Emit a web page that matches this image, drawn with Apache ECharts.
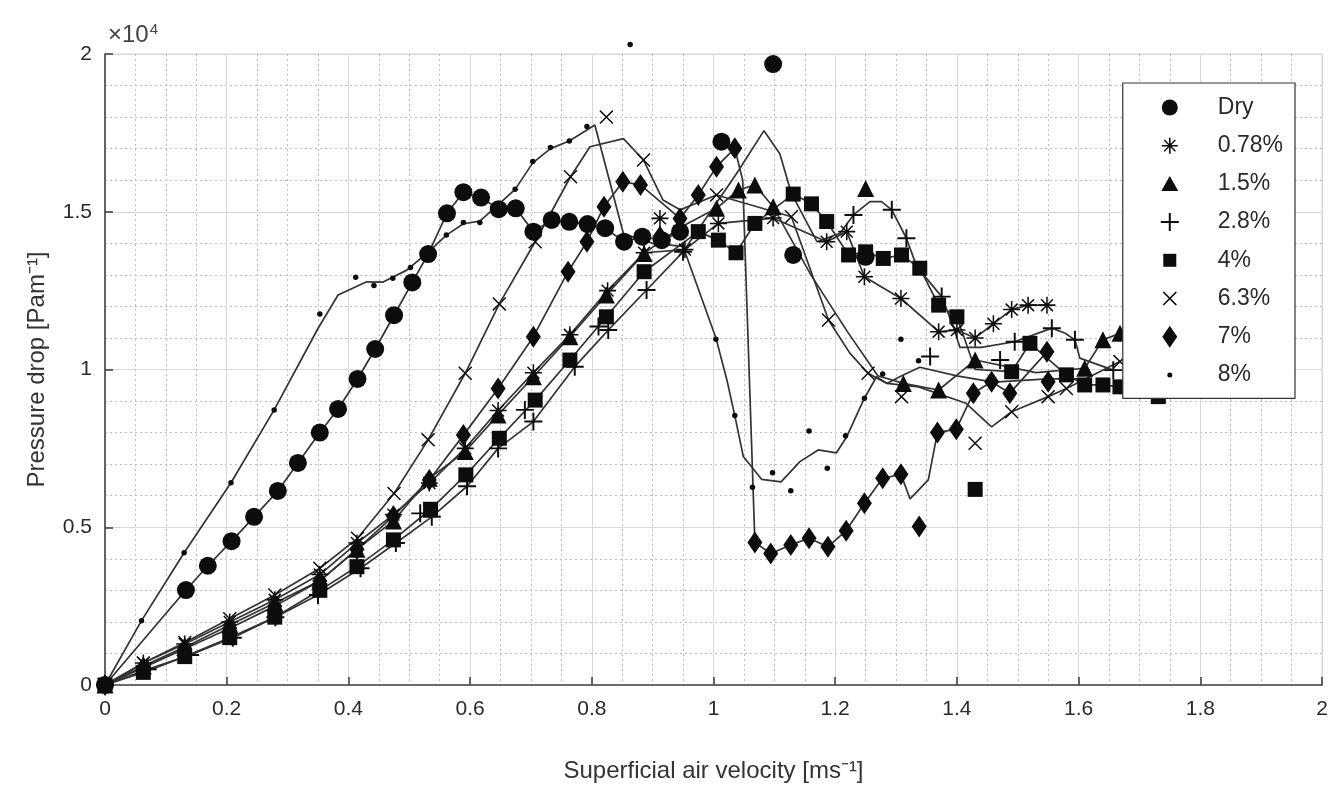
<!DOCTYPE html>
<html><head><meta charset="utf-8">
<script src="https://cdn.jsdelivr.net/npm/echarts@6/dist/echarts.min.js"></script>
<style>html,body{margin:0;padding:0;background:#fff}#c{width:1344px;height:794px}</style>
</head><body><div id="c"></div>
<script>
// ---------- DATA (x: superficial air velocity [m/s], y: pressure drop [x1e4 Pa/m]) ----------
const seriesNames = ['Dry','0.78%','1.5%','2.8%','4%','6.3%','7%','8%'];
const xTicks = [0,0.2,0.4,0.6,0.8,1,1.2,1.4,1.6,1.8,2];
const yTicks = [0,0.5,1,1.5,2];

// on = markers on the line, off = markers off the line, via = line vertices without a marker
const dryOn = [[0,0],[0.133,0.301],[0.169,0.378],[0.208,0.456],[0.245,0.533],[0.284,0.615],[0.317,0.704],[0.353,0.800],[0.383,0.875],[0.415,0.970],[0.444,1.065],[0.475,1.172],[0.505,1.276],[0.531,1.366],[0.562,1.495],[0.589,1.562],[0.618,1.545],[0.647,1.508],[0.675,1.511],[0.704,1.437],[0.734,1.474],[0.763,1.468],[0.793,1.461],[0.822,1.448],[0.853,1.405],[0.883,1.421],[0.915,1.41],[0.945,1.437]];
const dryOff = [[1.013,1.722],[1.098,1.968],[1.131,1.363],[1.25,1.357]];
const dryVia = [];

const p078On = [[0,0],[0.063,0.07],[0.131,0.13],[0.205,0.20],[0.279,0.27],[0.353,0.35],[0.414,0.45],[0.474,0.54],[0.533,0.64],[0.592,0.75],[0.646,0.87],[0.704,0.99],[0.764,1.11],[0.826,1.25],[0.886,1.37],[0.953,1.38],[1.008,1.463],[1.098,1.48],[1.186,1.405],[1.219,1.437],[1.248,1.294],[1.308,1.225],[1.37,1.12],[1.40,1.125],[1.43,1.10],[1.46,1.145],[1.49,1.19],[1.517,1.204],[1.548,1.204]];
const p078Off = [[0.912,1.479]];
const p078Via = [];

const p15On = [[0,0],[0.063,0.06],[0.131,0.12],[0.205,0.19],[0.279,0.26],[0.353,0.33],[0.414,0.43],[0.474,0.52],[0.533,0.655],[0.592,0.74],[0.646,0.856],[0.704,0.977],[0.764,1.104],[0.824,1.236],[0.886,1.368],[0.945,1.45],[1.005,1.511],[1.041,1.569],[1.068,1.585],[1.098,1.516],[1.312,0.956],[1.37,0.935],[1.43,1.03],[1.61,1.004],[1.64,1.094],[1.668,1.115]];
const p15Off = [[1.25,1.574]];
const p15Via = [[1.16,1.30],[1.22,1.12],[1.27,0.98],[1.53,0.99]];

const p28On = [[0,0],[0.07,0.05],[0.14,0.095],[0.21,0.15],[0.28,0.215],[0.35,0.285],[0.42,0.37],[0.478,0.45],[0.537,0.533],[0.595,0.63],[0.646,0.75],[0.704,0.835],[0.772,1.009],[0.827,1.125],[0.89,1.252],[0.95,1.373],[1.23,1.49],[1.293,1.506],[1.317,1.416],[1.375,1.231],[1.495,1.088],[1.556,1.131],[1.594,1.094],[1.657,0.998]];
const p28Off = [[0.518,0.544],[0.69,0.872],[0.811,1.136],[1.356,1.041],[1.471,1.03]];
const p28Via = [[1.038,1.621],[1.083,1.757],[1.109,1.684],[1.128,1.558],[1.17,1.405],[1.208,1.432],[1.257,1.532],[1.276,1.532],[1.334,1.326],[1.394,1.136],[1.405,1.07],[1.44,1.07],[1.578,1.115],[1.602,1.036]];

const p4On = [[0,0],[0.063,0.04],[0.131,0.09],[0.205,0.15],[0.279,0.215],[0.353,0.30],[0.414,0.375],[0.474,0.46],[0.535,0.557],[0.593,0.666],[0.648,0.782],[0.707,0.903],[0.764,1.03],[0.824,1.167],[0.886,1.31],[0.975,1.437],[1.008,1.41],[1.037,1.37],[1.068,1.463],[1.131,1.556],[1.161,1.525],[1.186,1.469],[1.222,1.363],[1.25,1.373],[1.279,1.352],[1.309,1.363],[1.339,1.321],[1.37,1.204],[1.40,1.167],[1.49,0.993],[1.52,1.083],[1.58,0.983],[1.61,0.951],[1.64,0.951],[1.668,0.945],[1.731,0.914]];
const p4Off = [[1.43,0.62]];
const p4Via = [[1.43,1.0]];

const p63On = [[0,0],[0.063,0.07],[0.131,0.135],[0.205,0.21],[0.279,0.285],[0.353,0.37],[0.415,0.465],[0.475,0.607],[0.531,0.777],[0.592,0.988],[0.648,1.208],[0.707,1.405],[0.765,1.611],[0.885,1.664],[1.005,1.553],[1.128,1.484],[1.189,1.157],[1.254,0.988],[1.49,0.866],[1.55,0.914],[1.58,0.94],[1.668,1.025]];
const p63Off = [[0.824,1.80],[1.309,0.914],[1.43,0.766]];
const p63Via = [[0.797,1.706],[0.852,1.732],[0.917,1.537],[0.945,1.506],[1.224,1.052],[1.285,0.956],[1.337,0.945],[1.415,0.893],[1.457,0.818]];

const p7On = [[0,0],[0.063,0.055],[0.131,0.115],[0.205,0.18],[0.279,0.25],[0.353,0.33],[0.414,0.43],[0.474,0.535],[0.533,0.65],[0.589,0.792],[0.646,0.94],[0.704,1.104],[0.761,1.31],[0.792,1.405],[0.82,1.516],[0.851,1.595],[0.88,1.585],[0.945,1.479],[0.975,1.553],[1.005,1.643],[1.035,1.701],[1.068,0.452],[1.094,0.417],[1.127,0.444],[1.157,0.465],[1.188,0.438],[1.218,0.489],[1.248,0.576],[1.278,0.655],[1.308,0.668],[1.368,0.80],[1.399,0.811],[1.427,0.925],[1.457,0.961],[1.487,0.925],[1.548,1.056]];
const p7Off = [[0.912,1.421],[1.338,0.502],[1.55,0.961]];
const p7Via = [[1.048,1.60],[1.323,0.59],[1.353,0.65]];

const p8On = [];
const p8Off = [[0,0],[0.060,0.204],[0.130,0.419],[0.207,0.641],[0.278,0.872],[0.353,1.176],[0.412,1.292],[0.442,1.266],[0.473,1.289],[0.502,1.323],[0.561,1.426],[0.589,1.466],[0.616,1.466],[0.674,1.571],[0.703,1.659],[0.732,1.704],[0.763,1.724],[0.792,1.77],[0.863,2.03],[1.004,1.096],[1.035,0.854],[1.064,0.627],[1.097,0.673],[1.127,0.616],[1.157,0.805],[1.187,0.687],[1.217,0.79],[1.248,0.909],[1.278,0.986],[1.308,1.096],[1.337,1.028]];
const p8Via = [[0,0],[0.060,0.204],[0.130,0.419],[0.207,0.641],[0.278,0.872],[0.35,1.13],[0.383,1.236],[0.43,1.278],[0.457,1.277],[0.496,1.315],[0.53,1.37],[0.561,1.426],[0.589,1.462],[0.616,1.47],[0.645,1.52],[0.674,1.571],[0.703,1.655],[0.732,1.70],[0.763,1.724],[0.805,1.775],[0.852,1.43],[0.90,1.40],[0.95,1.39],[1.004,1.10],[1.022,0.967],[1.035,0.854],[1.049,0.724],[1.079,0.652],[1.111,0.644],[1.142,0.708],[1.172,0.745],[1.202,0.736],[1.219,0.787],[1.248,0.909],[1.268,0.977],[1.285,0.956],[1.306,0.977],[1.339,1.007],[1.40,0.98],[1.46,0.96],[1.55,0.97],[1.62,0.97]];

const groups = [
  [dryOn,dryOff,dryVia],[p078On,p078Off,p078Via],[p15On,p15Off,p15Via],[p28On,p28Off,p28Via],
  [p4On,p4Off,p4Via],[p63On,p63Off,p63Via],[p7On,p7Off,p7Via],[p8On,p8Off,p8Via]
];

// ---------- STYLE ----------
const PAD = ' M-11,-11L-11,-11 M11,11L11,11';
const plotSym = [
  'circle',
  'path://M-0.9,-10L0.9,-10L0.9,10L-0.9,10Z M-10,-0.9L10,-0.9L10,0.9L-10,0.9Z M-6.36,-7.64L7.64,6.36L6.36,7.64L-7.64,-6.36Z M6.36,-7.64L7.64,-6.36L-6.36,7.64L-7.64,6.36Z',
  'triangle',
  'path://M-1.1,-10L1.1,-10L1.1,10L-1.1,10Z M-10,-1.1L10,-1.1L10,1.1L-10,1.1Z',
  'rect',
  'path://M-9.2,-10.8L10.8,9.2L9.2,10.8L-10.8,-9.2Z M9.2,-10.8L10.8,-9.2L-9.2,10.8L-10.8,9.2Z',
  'diamond',
  'circle'
];
const plotSize = [18,17,17,18,15,14,[15,22],5.5];
const legendIcon = [
  'path://M0,-8A8,8 0 1 1 0,8A8,8 0 1 1 0,-8Z'+PAD,
  'path://M-0.8,-8L0.8,-8L0.8,8L-0.8,8Z M-8,-0.8L8,-0.8L8,0.8L-8,0.8Z M-5.1,-6.1L6.1,5.1L5.1,6.1L-6.1,-5.1Z M5.1,-6.1L6.1,-5.1L-5.1,6.1L-6.1,5.1Z'+PAD,
  'path://M0,-8L8.5,7L-8.5,7Z'+PAD,
  'path://M-1,-9L1,-9L1,9L-1,9Z M-9,-1L9,-1L9,1L-9,1Z'+PAD,
  'path://M-6.5,-6.5L6.5,-6.5L6.5,6.5L-6.5,6.5Z'+PAD,
  'path://M-5.9,-7.1L7.1,5.9L5.9,7.1L-7.1,-5.9Z M5.9,-7.1L7.1,-5.9L-5.9,7.1L-7.1,5.9Z'+PAD,
  'path://M0,-11L7.5,0L0,11L-7.5,0Z'+PAD,
  'path://M0,-2.5A2.5,2.5 0 1 1 0,2.5A2.5,2.5 0 1 1 0,-2.5Z'+PAD
];

const FONT = 'Liberation Sans, Arial, sans-serif';
const series = [];
groups.forEach((g, i) => {
  const [on, off, via] = g;
  const line = on.concat(via).slice().sort((a,b)=>a[0]-b[0]);
  series.push({
    name: seriesNames[i] + ' line', type: 'line', data: line, showSymbol: false, symbol: 'none',
    lineStyle: {color: '#333', width: 1.7}, silent: true, z: 2, animation: false
  });
});
groups.forEach((g, i) => {
  const [on, off] = g;
  series.push({
    name: seriesNames[i], type: 'scatter', data: on.concat(off),
    symbol: plotSym[i], symbolSize: plotSize[i], clip: false,
    itemStyle: {color: '#0d0d0d', opacity: 1}, z: 3, animation: false
  });
});

const chart = echarts.init(document.getElementById('c'), null, {renderer: 'canvas'});
chart.setOption({
  backgroundColor: '#fff',
  animation: false,
  grid: {left: 105, right: 22, top: 54, bottom: 109, show: true, borderColor: '#d4d4d4', borderWidth: 1},
  xAxis: {
    type: 'value', min: xTicks[0], max: xTicks[xTicks.length-1], interval: 0.2,
    name: 'Superficial air velocity [ms⁻¹]', nameLocation: 'middle', nameGap: 74,
    nameTextStyle: {fontSize: 24, color: '#333', fontFamily: FONT},
    axisLine: {show: true, onZero: false, lineStyle: {color: '#444', width: 1.6}},
    axisTick: {show: true, inside: true, length: 8, lineStyle: {color: '#444', width: 1.6}},
    axisLabel: {fontSize: 21, color: '#2a2a2a', margin: 14, fontFamily: FONT,
      formatter: v => String(Math.round(v*10)/10)},
    splitLine: {show: true, lineStyle: {color: '#d8d8d8', width: 1}},
    minorTick: {show: false, splitNumber: 4},
    minorSplitLine: {show: true, lineStyle: {color: '#bdbdbd', width: 1, type: [2,3]}}
  },
  yAxis: {
    type: 'value', min: yTicks[0], max: yTicks[yTicks.length-1], interval: 0.5,
    name: 'Pressure drop [Pam⁻¹]', nameLocation: 'middle', nameGap: 56,
    nameTextStyle: {fontSize: 24, color: '#333', fontFamily: FONT},
    axisLine: {show: true, onZero: false, lineStyle: {color: '#444', width: 1.6}},
    axisTick: {show: true, inside: true, length: 8, lineStyle: {color: '#444', width: 1.6}},
    axisLabel: {fontSize: 21, color: '#2a2a2a', margin: 13, fontFamily: FONT,
      formatter: v => String(v)},
    splitLine: {show: true, lineStyle: {color: '#d8d8d8', width: 1}},
    minorTick: {show: false, splitNumber: 5},
    minorSplitLine: {show: true, lineStyle: {color: '#bdbdbd', width: 1, type: [2,3]}}
  },
  legend: {
    orient: 'vertical', right: 49, top: 83,
    itemWidth: 60, itemHeight: 22, itemGap: 15.2,
    padding: [13, 12, 12, 36],
    backgroundColor: '#fff', borderColor: '#333', borderWidth: 1.2, borderRadius: 0,
    symbolKeepAspect: true,
    textStyle: {fontSize: 23, color: '#2a2a2a', fontFamily: FONT, padding: [0,0,0,13], lineHeight: 22},
    data: seriesNames.map((n, i) => ({name: n, icon: legendIcon[i]})),
    selectedMode: false, z: 10
  },
  graphic: [{
    type: 'text', left: 108, top: 22, z: 10,
    style: {text: '×10{s|4}', fontSize: 24, fill: '#444', fontFamily: FONT,
      rich: {s: {fontSize: 15, fill: '#444', fontFamily: FONT, verticalAlign: 'top', padding: [0,0,12,1]}}}
  }],
  series: series
});
</script>
</body></html>
